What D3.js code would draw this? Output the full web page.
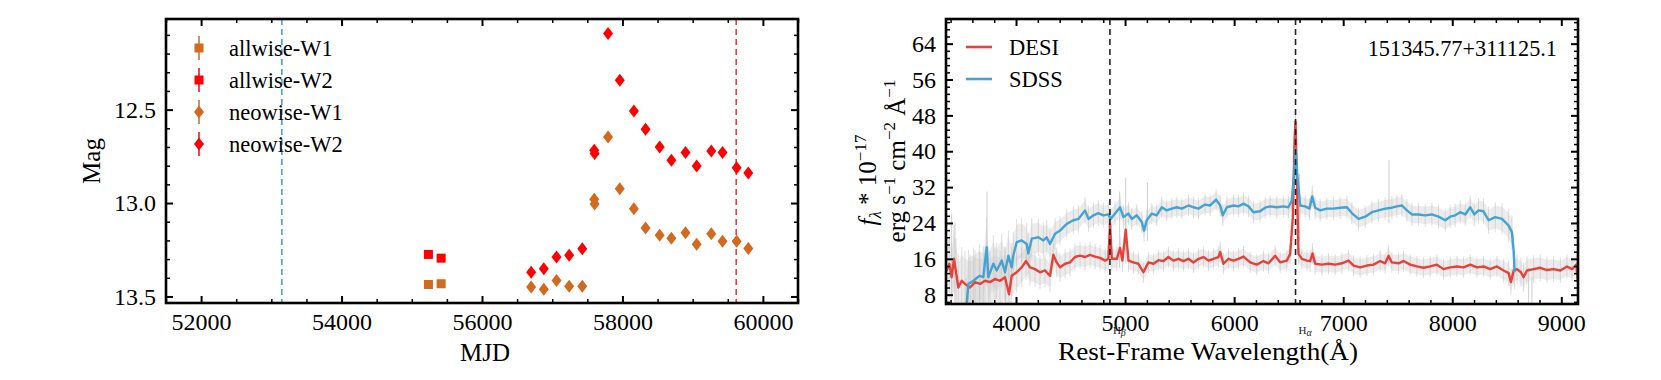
<!DOCTYPE html>
<html><head><meta charset="utf-8">
<script src="https://cdn.jsdelivr.net/npm/d3@7"></script>
<style>
html,body{margin:0;padding:0;background:#fff;}
svg{display:block;font-family:"Liberation Serif","Times New Roman",serif;}
svg text{font-family:"Liberation Serif","Times New Roman",serif;}
</style></head>
<body>
<svg id="chart" width="1661" height="380"></svg>
<script>
// ---------- Light curve data (left panel) ----------
const allwiseMJD = [55237, 55418];
const allwiseW1 = [13.436, 13.432];
const allwiseW2 = [13.275, 13.295];
const neowiseMJD = [56700, 56880, 57061, 57241, 57428, 57598, 57604, 57795, 57962, 58163, 58329, 58530, 58697, 58898, 59057, 59265, 59425, 59626, 59792];
const neowiseW1 = [13.45, 13.461, 13.414, 13.446, 13.445, 12.98, 13.005, 12.646, 12.923, 13.03, 13.134, 13.173, 13.188, 13.159, 13.221, 13.164, 13.204, 13.205, 13.243];
const neowiseW2 = [13.37, 13.352, 13.289, 13.28, 13.245, 12.718, 12.735, 12.093, 12.343, 12.507, 12.605, 12.7, 12.771, 12.729, 12.802, 12.721, 12.729, 12.811, 12.839];
const sdssEpoch = 53150;
const desiEpoch = 59620;
const lcLegend = ["allwise-W1", "allwise-W2", "neowise-W1", "neowise-W2"];
const mjdTicks = [52000, 54000, 56000, 58000, 60000];
const magTicks = [12.5, 13.0, 13.5];

// ---------- Spectra data (right panel) ----------
const desiWave = [3364,3388,3410,3431,3450,3471,3502,3532,3578,3624,3670,3716,3762,3807,3853,3899,3936,3960,4006,4052,4092,4128,4174,4220,4266,4312,4342,4373,4404,4450,4495,4541,4587,4633,4679,4725,4771,4817,4847,4862,4878,4924,4954,4976,5006,5031,5077,5122,5168,5214,5260,5306,5352,5398,5443,5489,5535,5581,5627,5673,5719,5765,5810,5856,5872,5902,5948,5994,6040,6086,6147,6208,6269,6315,6376,6422,6483,6514,6538,6554,6563,6575,6590,6621,6667,6697,6719,6743,6804,6865,6926,6988,7049,7095,7156,7217,7278,7339,7385,7416,7446,7507,7553,7615,7676,7737,7798,7859,7920,7981,8043,8104,8165,8226,8287,8348,8410,8471,8517,8538,8563,8593,8630,8654,8685,8746,8807,8868,8929,8991,9052,9098,9138,9150];
const desiFlux = [13.4,14.9,11.9,16.0,13.0,9.6,11.1,10.4,9.6,10.8,10.4,11.1,10.8,11.5,11.1,11.9,8.1,12.2,13.0,14.1,15.5,14.1,13.7,13.0,13.4,12.2,16.9,15.2,14.1,14.9,15.2,16.4,16.7,16.4,16.9,16.5,16.2,15.6,16.0,23.8,16.0,16.0,18.4,15.6,22.5,15.6,15.2,14.9,13.0,15.2,14.9,15.7,15.5,16.4,15.6,16.0,15.5,16.0,15.2,16.0,16.4,15.6,16.0,16.4,17.5,14.9,16.0,15.6,16.0,16.5,15.2,14.7,15.5,15.0,16.7,15.2,15.6,17.1,25.3,42.5,46.6,34.2,17.1,16.0,15.6,15.5,17.2,14.9,14.7,14.9,14.7,15.0,15.6,14.5,14.1,14.5,14.7,15.5,15.0,16.7,15.2,15.0,15.5,14.7,14.3,14.0,14.3,14.7,13.7,14.1,14.3,14.1,14.7,14.1,14.3,13.7,14.3,13.4,12.8,10.8,13.4,13.7,13.0,11.9,13.4,13.7,14.0,13.5,13.7,13.4,14.3,13.7,14.7,11.0];
const sdssWave = [3541,3563,3609,3664,3700,3731,3746,3792,3823,3869,3899,3930,3960,3975,4006,4052,4098,4113,4144,4205,4251,4281,4312,4358,4404,4465,4526,4572,4633,4664,4710,4755,4801,4847,4868,4908,4954,4985,5031,5061,5107,5153,5174,5199,5245,5290,5336,5382,5428,5474,5520,5581,5627,5673,5734,5780,5835,5872,5896,5933,5994,6040,6086,6132,6177,6238,6284,6330,6391,6452,6498,6529,6550,6563,6581,6605,6651,6691,6716,6743,6789,6850,6911,6972,7034,7079,7141,7202,7263,7324,7385,7446,7492,7538,7584,7630,7691,7752,7813,7874,7936,7981,8027,8073,8119,8165,8202,8241,8287,8333,8394,8456,8517,8547,8563,8572];
const sdssFlux = [4.0,10.4,11.1,12.2,11.9,18.6,11.9,14.9,13.4,15.6,13.0,16.7,14.1,16.7,19.7,20.1,19.3,17.2,20.5,20.8,20.1,20.8,19.3,21.6,22.3,23.8,24.6,24.9,26.8,24.9,25.7,26.2,25.7,25.9,24.9,26.1,27.5,25.3,26.1,24.9,25.7,24.2,22.3,24.6,26.1,25.7,27.5,26.8,27.2,27.5,27.2,27.9,27.5,27.2,28.1,27.9,29.2,27.9,25.7,27.5,27.9,27.7,28.3,27.7,26.4,26.6,27.4,27.7,27.5,27.7,27.5,29.0,35.0,40.6,34.2,27.9,27.7,27.2,29.9,27.4,26.8,27.2,27.2,27.4,27.5,26.2,24.9,25.4,26.4,26.8,27.2,27.4,27.7,27.9,26.8,25.9,25.9,25.7,25.9,25.4,24.6,25.4,25.7,26.4,25.9,27.5,25.9,26.8,26.6,24.6,25.3,24.9,23.4,21.9,17.8,13.0];
// estimated noise half-width of the raw (grey) spectra at a few wavelengths
const desiNoiseWave = [3358, 3950, 4000, 4400, 5200, 8400, 8600, 9153];
const desiNoiseHalf = [6, 5, 3.5, 2.5, 1.8, 1.8, 2.5, 2];
const sdssNoiseWave = [3541, 4000, 4400, 5200, 8200, 8572];
const sdssNoiseHalf = [6, 4, 2.5, 1.8, 2, 3];
// individual raw-spectrum spikes: wavelength, low, high
const spikeWave = [3410, 3440, 3560, 3734, 3905, 4950, 5006, 5205, 6600, 7420, 8700, 8730];
const spikeLow  = [8, 6, 6, 10, 6, 14, 15, 20, 20, 24, 6, 6];
const spikeHigh = [26, 24, 11, 31, 12, 31, 34, 33, 35, 38, 14, 12];
const lineWave = [4861, 6563];
const lineNames = ["β", "α"];
const waveTicks = [4000, 5000, 6000, 7000, 8000, 9000];
const fluxTicks = [8, 16, 24, 32, 40, 48, 56, 64];
const specLegend = ["DESI", "SDSS"];
const objectName = "151345.77+311125.1";

// ---------- styling ----------
const C_W1 = "#d2691e", C_W2 = "#ff0000";
const C_DESI = "#e8413a", C_SDSS = "#44a3d3";
const FONT = 24;
const SERIF = '"Liberation Serif","Times New Roman",serif';

const svg = d3.select("#chart");
const defs = svg.append("defs");

function frameAxes(g, x, y, w, h, xMaj, xMin, yMaj, yMin, xFmt, yFmt) {
  const addAxis = (gen, tr, vals, size, fmt, lbl) => {
    const a = g.append("g").attr("transform", tr)
      .call(gen.tickValues(vals).tickSize(size).tickPadding(lbl ? 10 : 0).tickFormat(lbl ? fmt : () => ""));
    a.attr("font-family", SERIF).attr("font-size", FONT);
    a.select(".domain").remove();
    a.selectAll(".tick line").attr("stroke", "#000").attr("stroke-width", Math.abs(size) > 5 ? 2 : 1.5);
    a.selectAll(".tick text").attr("font-size", FONT).attr("fill", "#000").attr("font-family", SERIF);
    return a;
  };
  addAxis(d3.axisBottom(x), `translate(0,${h})`, xMaj, -7, xFmt, true);
  addAxis(d3.axisBottom(x), `translate(0,${h})`, xMin, -4, null, false);
  addAxis(d3.axisTop(x), `translate(0,0)`, xMaj, -7, null, false);
  addAxis(d3.axisTop(x), `translate(0,0)`, xMin, -4, null, false);
  addAxis(d3.axisLeft(y), `translate(0,0)`, yMaj, -7, yFmt, true);
  addAxis(d3.axisLeft(y), `translate(0,0)`, yMin, -4, null, false);
  addAxis(d3.axisRight(y), `translate(${w},0)`, yMaj, -7, null, false);
  addAxis(d3.axisRight(y), `translate(${w},0)`, yMin, -4, null, false);
  g.append("rect").attr("width", w).attr("height", h).attr("fill", "none")
    .attr("stroke", "#000").attr("stroke-width", 2.6);
}

// ================= LEFT PANEL =================
{
  const L = 166, T = 19, W = 632, H = 284;
  const g = svg.append("g").attr("transform", `translate(${L},${T})`);
  const x = d3.scaleLinear().domain([51500, 60500]).range([0, W]);
  const y = d3.scaleLinear().domain([12.015, 13.535]).range([0, H]);

  defs.append("clipPath").attr("id", "clipL").append("rect").attr("width", W).attr("height", H);
  const pg = g.append("g").attr("clip-path", "url(#clipL)");

  pg.append("line").attr("x1", x(sdssEpoch)).attr("x2", x(sdssEpoch)).attr("y1", 0).attr("y2", H)
    .attr("stroke", C_SDSS).attr("stroke-width", 1.6).attr("stroke-dasharray", "6,4");
  pg.append("line").attr("x1", x(desiEpoch)).attr("x2", x(desiEpoch)).attr("y1", 0).attr("y2", H)
    .attr("stroke", C_DESI).attr("stroke-width", 1.6).attr("stroke-dasharray", "6,4");

  const sq = 9;
  const diamond = (cx, cy) => `M${cx},${cy-6.5}L${cx+5},${cy}L${cx},${cy+6.5}L${cx-5},${cy}Z`;

  pg.selectAll(".aw1").data(allwiseMJD).join("rect")
    .attr("x", d => x(d) - sq/2).attr("y", (d,i) => y(allwiseW1[i]) - sq/2)
    .attr("width", sq).attr("height", sq).attr("fill", C_W1);
  pg.selectAll(".aw2").data(allwiseMJD).join("rect")
    .attr("x", d => x(d) - sq/2).attr("y", (d,i) => y(allwiseW2[i]) - sq/2)
    .attr("width", sq).attr("height", sq).attr("fill", C_W2);
  pg.selectAll(".nw1").data(neowiseMJD).join("path")
    .attr("d", (d,i) => diamond(x(d), y(neowiseW1[i]))).attr("fill", C_W1);
  pg.selectAll(".nw2").data(neowiseMJD).join("path")
    .attr("d", (d,i) => diamond(x(d), y(neowiseW2[i]))).attr("fill", C_W2);

  frameAxes(g, x, y, W, H,
    mjdTicks, d3.range(51500, 60501, 500).filter(v => !mjdTicks.includes(v)),
    magTicks, d3.range(121, 136).map(v => v/10).filter(v => !magTicks.includes(v)),
    d3.format("d"), d3.format(".1f"));

  const lg = g.append("g");
  const colors = [C_W1, C_W2, C_W1, C_W2];
  lcLegend.forEach((name, i) => {
    const cy = 29 + i * 32, cx = 33;
    lg.append("line").attr("x1", cx).attr("x2", cx).attr("y1", cy - 12).attr("y2", cy + 12)
      .attr("stroke", colors[i]).attr("stroke-width", 1.5);
    if (i < 2) lg.append("rect").attr("x", cx - 4.5).attr("y", cy - 4.5).attr("width", 9).attr("height", 9).attr("fill", colors[i]);
    else lg.append("path").attr("d", diamond(cx, cy)).attr("fill", colors[i]);
    lg.append("text").attr("x", 63).attr("y", cy + 7.5).attr("font-size", 22.5).text(name);
  });

  svg.append("text").attr("x", L + W/2 + 3).attr("y", 361).attr("text-anchor", "middle")
    .attr("font-size", 25).text("MJD");
  svg.append("text").attr("transform", `translate(100,161) rotate(-90)`).attr("text-anchor", "middle")
    .attr("font-size", 25).text("Mag");
}

// ================= RIGHT PANEL =================
{
  const L = 946, T = 19, W = 632, H = 285;
  const g = svg.append("g").attr("transform", `translate(${L},${T})`);
  const x = d3.scaleLinear().domain([3358, 9153]).range([0, W]);
  const y = d3.scaleLinear().domain([5.92, 69.5]).range([H, 0]);

  defs.append("clipPath").attr("id", "clipR").append("rect").attr("width", W).attr("height", H);
  const pg = g.append("g").attr("clip-path", "url(#clipR)");

  const desiNoise = d3.scaleLinear().domain(desiNoiseWave).range(desiNoiseHalf).clamp(true);
  const sdssNoise = d3.scaleLinear().domain(sdssNoiseWave).range(sdssNoiseHalf).clamp(true);
  const desiPts = desiWave.map((w, i) => [w, desiFlux[i]]);
  const sdssPts = sdssWave.map((w, i) => [w, sdssFlux[i]]);

  const band = (noise) => d3.area().x(d => x(d[0]))
    .y0(d => y(d[1] - noise(d[0]))).y1(d => y(d[1] + noise(d[0])));
  pg.append("path").datum(sdssPts).attr("d", band(sdssNoise)).attr("fill", "#cfcfcf").attr("opacity", 0.4);
  pg.append("path").datum(desiPts).attr("d", band(desiNoise)).attr("fill", "#cfcfcf").attr("opacity", 0.4);
  pg.selectAll(".rawS").data(sdssPts).join("line")
    .attr("x1", d => x(d[0])).attr("x2", d => x(d[0]))
    .attr("y1", d => y(d[1] - sdssNoise(d[0]) * 1.3)).attr("y2", d => y(d[1] + sdssNoise(d[0]) * 1.3))
    .attr("stroke", "#c4c4c4").attr("stroke-width", 0.8).attr("opacity", 0.7);
  pg.selectAll(".rawD").data(desiPts).join("line")
    .attr("x1", d => x(d[0])).attr("x2", d => x(d[0]))
    .attr("y1", d => y(d[1] - desiNoise(d[0]) * 1.3)).attr("y2", d => y(d[1] + desiNoise(d[0]) * 1.3))
    .attr("stroke", "#c4c4c4").attr("stroke-width", 0.8).attr("opacity", 0.7);
  pg.selectAll(".spike").data(spikeWave).join("line")
    .attr("x1", d => x(d)).attr("x2", d => x(d))
    .attr("y1", (d,i) => y(spikeLow[i])).attr("y2", (d,i) => y(spikeHigh[i]))
    .attr("stroke", "#c8c8c8").attr("stroke-width", 0.9);

  const line = d3.line().x(d => x(d[0])).y(d => y(d[1]));
  pg.append("path").datum(desiPts).attr("d", line).attr("fill", "none")
    .attr("stroke", C_DESI).attr("stroke-width", 2.4).attr("stroke-linejoin", "round");
  pg.append("path").datum(sdssPts).attr("d", line).attr("fill", "none")
    .attr("stroke", C_SDSS).attr("stroke-width", 2.4).attr("stroke-linejoin", "round");

  lineWave.forEach(w => {
    pg.append("line").attr("x1", x(w)).attr("x2", x(w)).attr("y1", 0).attr("y2", H)
      .attr("stroke", "#222").attr("stroke-width", 1.6).attr("stroke-dasharray", "6,4");
  });

  frameAxes(g, x, y, W, H,
    waveTicks, d3.range(3400, 9153, 200).filter(v => !waveTicks.includes(v)),
    fluxTicks, d3.range(4, 44).map(v => +(v * 1.6).toFixed(1)).filter(v => !fluxTicks.includes(v) && v > 5.92 && v < 69.5),
    d3.format("d"), d3.format("d"));

  lineWave.forEach((w, i) => {
    const t = g.append("text").attr("x", x(w) + 3).attr("y", H + 30).attr("font-size", 11).attr("fill", "#222");
    t.append("tspan").text("H");
    t.append("tspan").attr("font-style", "italic").attr("font-size", 10).attr("dy", 2).text(lineNames[i]);
  });

  const lcol = [C_DESI, C_SDSS];
  specLegend.forEach((name, i) => {
    const cy = 28 + i * 32;
    g.append("line").attr("x1", 20).attr("x2", 46).attr("y1", cy).attr("y2", cy)
      .attr("stroke", lcol[i]).attr("stroke-width", 2.6);
    g.append("text").attr("x", 63).attr("y", cy + 8).attr("font-size", 22.5).text(name);
  });
  g.append("text").attr("x", 611).attr("y", 37).attr("text-anchor", "end")
    .attr("font-size", 22.3).text(objectName);

  svg.append("text").attr("x", L + W/2 - 54).attr("y", 360).attr("text-anchor", "middle")
    .attr("font-size", 25).attr("textLength", 300).attr("lengthAdjust", "spacingAndGlyphs")
    .text("Rest-Frame Wavelength(Å)");

  const y1 = svg.append("text").attr("transform", `translate(876,180) rotate(-90)`)
    .attr("text-anchor", "middle").attr("font-size", 25);
  y1.append("tspan").attr("font-style", "italic").text("f");
  y1.append("tspan").attr("font-size", 17).attr("dy", 5).attr("font-style", "italic").text("λ");
  y1.append("tspan").attr("dy", -5).attr("font-size", 25).text(" * 10");
  y1.append("tspan").attr("font-size", 17).attr("dy", -10).text("−17");

  const y2 = svg.append("text").attr("transform", `translate(905,161) rotate(-90)`)
    .attr("text-anchor", "middle").attr("font-size", 25);
  y2.append("tspan").text("erg s");
  y2.append("tspan").attr("font-size", 17).attr("dy", -10).text("−1");
  y2.append("tspan").attr("dy", 10).text(" cm");
  y2.append("tspan").attr("font-size", 17).attr("dy", -10).text("−2");
  y2.append("tspan").attr("dy", 10).text(" Å");
  y2.append("tspan").attr("font-size", 17).attr("dy", -10).text("−1");
}
</script>
</body></html>
